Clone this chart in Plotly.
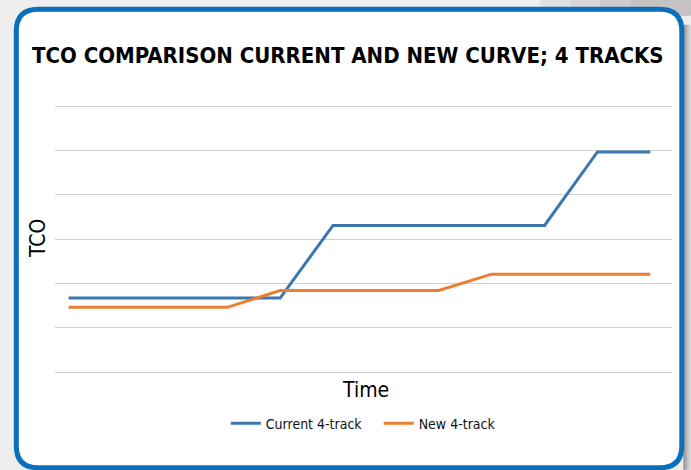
import plotly.graph_objects as go

# ---- data ----
periods = [1, 2, 3, 4, 5, 6, 7, 8, 9, 10, 11, 12]
current_4track = [1.67, 1.67, 1.67, 1.67, 1.67, 3.31, 3.31, 3.31, 3.31, 3.31, 4.97, 4.97]
new_4track = [1.46, 1.46, 1.46, 1.46, 1.84, 1.84, 1.84, 1.84, 2.21, 2.21, 2.21, 2.21]
series_names = ["Current 4-track", "New 4-track"]
title_text = "TCO COMPARISON CURRENT AND NEW CURVE; 4 TRACKS"

W, H = 691, 470
YMAX = 6.03
UNIT = 44.27
L, R, B = 54.7, 671.7, 372.3
T = B - YMAX * UNIT


def px(x):
    return (x - L) / (R - L)


def py(y):
    return (B - y) / (B - T)


def cond(s):
    return f'<span style="font-stretch:condensed">{s}</span>'


FONT = "DejaVu Sans Condensed, DejaVu Sans, sans-serif"

fig = go.Figure()
fig.add_trace(go.Scatter(x=periods, y=current_4track, mode="lines",
                         name=cond(series_names[0]) + "&nbsp;&nbsp;&nbsp;",
                         line=dict(color="#3c76af", width=3)))
fig.add_trace(go.Scatter(x=periods, y=new_4track, mode="lines", name=cond(series_names[1]),
                         line=dict(color="#ed7d31", width=3)))

# rounded box
x0, x1, y0, y1, r = 16, 681.5, 9.5, 468, 22
path = (f"M {px(x0+r)},{py(y0)} L {px(x1-r)},{py(y0)} Q {px(x1)},{py(y0)} {px(x1)},{py(y0+r)} "
        f"L {px(x1)},{py(y1-r)} Q {px(x1)},{py(y1)} {px(x1-r)},{py(y1)} "
        f"L {px(x0+r)},{py(y1)} Q {px(x0)},{py(y1)} {px(x0)},{py(y1-r)} "
        f"L {px(x0)},{py(y0+r)} Q {px(x0)},{py(y0)} {px(x0+r)},{py(y0)} Z")
shapes = []
# soft darker backdrop at top right
for i, op in enumerate([0.12, 0.12, 0.12, 0.12]):
    shapes.append(dict(type="rect", xref="paper", yref="paper", layer="below",
                       x0=px(540 + i * 30), x1=px(691), y0=py(0), y1=py(16),
                       fillcolor="#8a8580", opacity=op, line=dict(width=0)))
# shadow on right
for i, op in enumerate([0.55, 0.4, 0.25, 0.12]):
    shapes.append(dict(type="rect", xref="paper", yref="paper", layer="below",
                       x0=px(683 + i * 2), x1=px(685 + i * 2), y0=py(25), y1=py(470),
                       fillcolor="#505050", opacity=op, line=dict(width=0)))
shapes.append(dict(type="path", xref="paper", yref="paper", layer="below", path=path,
                   fillcolor="white", line=dict(color="#0a70bc", width=5)))

fig.update_layout(
    width=W, height=H,
    margin=dict(l=L, r=W - R, t=T, b=H - B, pad=0),
    paper_bgcolor="#eeeeee", plot_bgcolor="rgba(0,0,0,0)",
    shapes=shapes,
    showlegend=True,
    legend=dict(orientation="h", x=px(363), xanchor="center", y=py(424), yanchor="middle",
                font=dict(family=FONT, size=14, color="#111111"),
                bgcolor="rgba(0,0,0,0)", itemwidth=30, tracegroupgap=0),
    xaxis=dict(range=[0.743, 12.41], showgrid=False, showticklabels=False, zeroline=False,
               showline=False, ticks=""),
    yaxis=dict(range=[0, YMAX], dtick=1, tick0=0, showgrid=True, gridcolor="#d0d0d0",
               gridwidth=1, showticklabels=False, zeroline=True, zerolinecolor="#c8c8c8",
               zerolinewidth=1, showline=False, ticks=""),
    annotations=[
        dict(text=f"<b>{cond(title_text)}</b>", xref="paper", yref="paper", x=px(348), y=py(56),
             xanchor="center", yanchor="middle", showarrow=False,
             font=dict(family=FONT, size=22, color="#000000")),
        dict(text=cond("Time"), xref="paper", yref="paper", x=px(365), y=py(390),
             xanchor="center", yanchor="middle", showarrow=False,
             font=dict(family=FONT, size=21, color="#000000")),
        dict(text=cond("TCO"), xref="paper", yref="paper", x=px(37), y=py(239), textangle=-90,
             xanchor="center", yanchor="middle", showarrow=False,
             font=dict(family=FONT, size=21, color="#000000")),
    ],
)

fig.write_html("out.html", post_script="document.body.style.margin='0';",
               config={"displayModeBar": False})
